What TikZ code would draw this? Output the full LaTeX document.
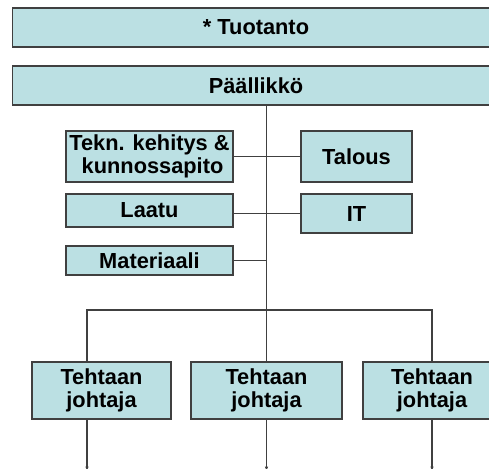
\documentclass[tikz,border=0pt]{standalone}
\usepackage{fontspec}
\setmainfont{Liberation Sans}
\usetikzlibrary{positioning,arrows.meta}

\definecolor{boxfill}{RGB}{187,224,227}
\definecolor{linegray}{RGB}{64,64,64}

\tikzset{
	box/.style={draw=black!75, line width=0.6pt, fill=boxfill, inner sep=0pt,
		align=center, font=\bfseries\fontsize{12.4}{12.8}\selectfont},
	link/.style={draw=linegray, line width=0.6pt}
}

\begin{document}
\begin{tikzpicture}[x=0.02cm, y=-0.02cm]
			\useasboundingbox (0,0) rectangle (489,468);

			\node[box, minimum width=9.76cm, minimum height=0.78cm] (tuot) at (256,27.5) {* Tuotanto};
			\node[box, minimum width=9.76cm, minimum height=0.78cm] (pall) at (256,85.5) {Päällikkö};

			\node[box, minimum width=3.34cm, minimum height=1.02cm] (tekn) at (149.5,156.5) {Tekn. kehitys \&\\\ kunnossapito};
			\node[box, minimum width=2.22cm, minimum height=1.02cm] (tal) at (356.5,156.5) {Talous};
			\node[box, minimum width=3.34cm, minimum height=0.66cm] (laa) at (149.5,210.5) {Laatu};
			\node[box, minimum width=2.22cm, minimum height=0.78cm] (it) at (356.5,213.5) {IT};
			\node[box, minimum width=3.34cm, minimum height=0.58cm] (mat) at (149.5,260.5) {Materiaali};

			\node[box, minimum width=2.78cm, minimum height=1.14cm] (j1) at (101.5,390.5) {Tehtaan\\johtaja};
			\node[box, minimum width=3.02cm, minimum height=1.14cm] (j2) at (266.5,390.5) {Tehtaan\\johtaja};
			\node[box, minimum width=2.76cm, minimum height=1.14cm] (j3) at (432,390.5) {Tehtaan\\johtaja};

			\coordinate (b1) at (87,310);
			\coordinate (b3) at (432,310);
			\coordinate (e1) at (87,471);
			\coordinate (e2) at (266.5,471);
			\coordinate (e3) at (432,471);

			\draw[link] (pall.south -| j2) -- (j2.north);
			\draw[link] (tekn) -- (tal);
			\draw[link] (laa.east |- it) -- (it);
			\draw[link] (mat) -- (mat -| j2);
			\draw[link] (b1 |- j1.north) -- (b1) -- (b3) -- (j3);

			\draw[link, -{Latex[length=2.5pt,width=2pt]}] (j1.south -| e1) -- (e1);
			\draw[link, -{Latex[length=2.5pt,width=2pt]}] (j2) -- (e2);
			\draw[link, -{Latex[length=2.5pt,width=2pt]}] (j3) -- (e3);
		\end{tikzpicture}
\end{document}
